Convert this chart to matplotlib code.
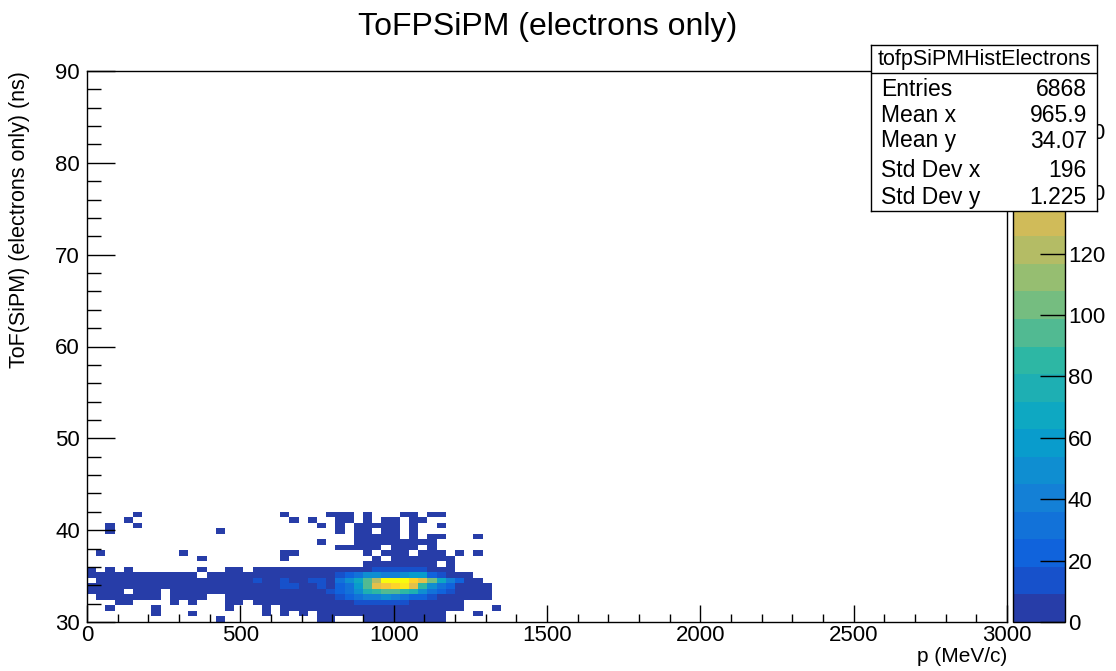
import matplotlib.pyplot as plt
import numpy as np
from matplotlib.colors import LinearSegmentedColormap, ListedColormap, BoundaryNorm
from matplotlib.ticker import MultipleLocator

plt.rcParams['font.family'] = ['Liberation Sans', 'DejaVu Sans']

# ROOT kBird palette
bird_stops = [0.0, 0.125, 0.25, 0.375, 0.5, 0.625, 0.75, 0.875, 1.0]
bird_red = [0.2082, 0.0592, 0.0780, 0.0232, 0.1802, 0.5301, 0.8186, 0.9956, 0.9764]
bird_green = [0.1664, 0.3599, 0.5041, 0.6419, 0.7178, 0.7492, 0.7328, 0.7862, 0.9832]
bird_blue = [0.5293, 0.8684, 0.8385, 0.7914, 0.6425, 0.4662, 0.3499, 0.1968, 0.0539]

# 100 x 100 bins
p_edges = np.linspace(0, 3000, 101)
tof_edges = np.linspace(30, 90, 101)

# bin contents, one dict per ToF bin: {p bin: entries}
tof_row_00 = {14: 1, 25: 2, 26: 1, 30: 2, 31: 3, 32: 3, 33: 2, 34: 3, 35: 2, 36: 2, 37: 1, 38: 1}
tof_row_01 = {7: 1, 11: 1, 19: 1, 21: 1, 23: 1, 25: 2, 26: 2, 27: 3, 28: 3, 29: 4, 30: 5, 31: 6,
              32: 6, 33: 5, 34: 5, 35: 4, 36: 3, 37: 2, 38: 2, 42: 1}
tof_row_02 = {2: 1, 7: 1, 15: 1, 19: 1, 21: 1, 22: 1, 23: 2, 24: 2, 25: 3, 26: 4, 27: 5, 28: 6,
              29: 7, 30: 8, 31: 8, 32: 8, 33: 7, 34: 7, 35: 6, 36: 5, 37: 4, 38: 3, 39: 2, 40: 1, 44: 1}
tof_row_03 = {3: 1, 4: 1, 9: 1, 11: 1, 15: 1, 16: 1, 18: 1, 19: 1, 20: 2, 21: 2, 22: 2, 23: 2,
              24: 3, 25: 4, 26: 5, 27: 6, 28: 8, 29: 12, 30: 15, 31: 16, 32: 17, 33: 15, 34: 13,
              35: 7, 36: 6, 37: 5, 38: 4, 39: 3, 40: 2}
tof_row_04 = {1: 1, 2: 1, 3: 2, 4: 1, 5: 1, 6: 2, 7: 1, 9: 1, 10: 2, 11: 1, 12: 1, 15: 2, 16: 2,
              17: 2, 18: 3, 19: 2, 20: 3, 21: 3, 22: 3, 23: 3, 24: 4, 25: 5, 26: 6, 27: 9, 28: 18,
              29: 28, 30: 38, 31: 42, 32: 45, 33: 40, 34: 35, 35: 25, 36: 20, 37: 10, 38: 7, 39: 6,
              40: 4, 41: 3, 42: 2, 43: 1}
tof_row_05 = {0: 2, 1: 2, 2: 3, 3: 2, 5: 3, 6: 2, 7: 3, 9: 3, 10: 3, 11: 3, 12: 3, 13: 3, 14: 3,
              15: 3, 16: 4, 17: 4, 18: 5, 19: 5, 20: 5, 21: 6, 22: 6, 23: 5, 24: 7, 25: 8, 26: 15,
              27: 20, 28: 30, 29: 50, 30: 75, 31: 88, 32: 95, 33: 92, 34: 85, 35: 80, 36: 50,
              37: 30, 38: 20, 39: 12, 40: 6, 41: 4, 42: 3, 43: 2}
tof_row_06 = {0: 3, 1: 3, 2: 4, 3: 3, 4: 4, 5: 3, 6: 4, 7: 4, 8: 4, 9: 4, 10: 5, 11: 4, 12: 5,
              13: 5, 14: 5, 15: 5, 16: 6, 17: 6, 18: 7, 19: 7, 20: 7, 21: 12, 22: 11, 23: 7, 24: 8,
              25: 15, 26: 8, 27: 22, 28: 32, 29: 58, 30: 90, 31: 140, 32: 150, 33: 156, 34: 163,
              35: 140, 36: 82, 37: 45, 38: 30, 39: 20, 40: 8, 41: 6, 42: 4, 43: 2}
tof_row_07 = {1: 3, 2: 3, 3: 4, 4: 3, 5: 4, 6: 4, 7: 4, 8: 4, 9: 4, 10: 4, 11: 5, 12: 5, 13: 5,
              14: 6, 15: 5, 16: 6, 17: 6, 18: 12, 19: 7, 20: 7, 21: 13, 22: 8, 23: 7, 24: 14,
              25: 15, 26: 8, 27: 28, 28: 50, 29: 68, 30: 98, 31: 125, 32: 171, 33: 171, 34: 171,
              35: 158, 36: 140, 37: 100, 38: 70, 39: 38, 40: 24, 41: 6, 42: 3}
tof_row_08 = {0: 2, 1: 3, 2: 3, 3: 3, 4: 3, 5: 3, 6: 3, 7: 3, 8: 3, 9: 3, 10: 4, 11: 3, 13: 4,
              14: 4, 15: 4, 16: 4, 17: 5, 18: 5, 19: 5, 20: 5, 21: 5, 22: 6, 23: 6, 24: 6, 25: 6,
              26: 7, 27: 10, 28: 18, 29: 28, 30: 48, 31: 52, 32: 42, 33: 44, 34: 46, 35: 60, 36: 55,
              37: 25, 38: 12, 39: 5, 40: 3, 41: 2}
tof_row_09 = {0: 1, 2: 1, 4: 1, 12: 1, 15: 1, 16: 1, 18: 1, 19: 2, 20: 2, 21: 2, 22: 2, 23: 2,
              24: 3, 25: 3, 26: 3, 27: 3, 28: 4, 29: 5, 30: 8, 31: 12, 32: 15, 33: 14, 34: 10,
              35: 16, 36: 14, 37: 6, 38: 2, 39: 2}
tof_row_10 = {30: 2, 31: 3, 32: 3, 33: 3, 34: 3, 35: 2, 36: 2, 37: 2, 39: 1}
tof_row_11 = {12: 1, 21: 1, 31: 2, 33: 2, 34: 3, 35: 2, 36: 2, 37: 2, 38: 1, 39: 1}
tof_row_12 = {1: 1, 10: 1, 21: 1, 22: 1, 30: 2, 32: 2, 33: 2, 34: 2, 36: 1, 37: 2, 38: 1, 40: 1, 42: 1}
tof_row_13 = {27: 1, 28: 1, 29: 2, 30: 2, 31: 2, 33: 1, 34: 2, 35: 1, 37: 1}
tof_row_14 = {25: 1, 29: 1, 30: 2, 31: 2, 32: 1, 33: 2, 34: 1, 35: 2, 36: 1, 37: 1}
tof_row_15 = {29: 1, 30: 1, 31: 2, 32: 1, 33: 1, 35: 1, 37: 1, 38: 1, 42: 1}
tof_row_16 = {2: 1, 14: 1, 27: 1, 29: 1, 30: 1, 32: 1, 33: 1, 35: 1}
tof_row_17 = {2: 1, 5: 1, 25: 1, 27: 1, 29: 1, 30: 1, 31: 1, 32: 1, 33: 1, 35: 1, 38: 1}
tof_row_18 = {4: 1, 22: 1, 24: 1, 27: 1, 28: 1, 30: 1, 32: 1, 33: 1, 35: 1, 36: 1}
tof_row_19 = {5: 1, 21: 1, 26: 1, 27: 1, 28: 1, 30: 1, 34: 1, 35: 1, 37: 1, 38: 1}

tof_rows = [tof_row_00, tof_row_01, tof_row_02, tof_row_03, tof_row_04, tof_row_05, tof_row_06,
            tof_row_07, tof_row_08, tof_row_09, tof_row_10, tof_row_11, tof_row_12, tof_row_13,
            tof_row_14, tof_row_15, tof_row_16, tof_row_17, tof_row_18, tof_row_19]

stats_labels = ["Entries", "Mean x", "Mean y", "Std Dev x", "Std Dev y"]
stats_values = ["6868", "965.9", "34.07", "196", "1.225"]

counts = np.zeros((100, 100))
for iy, row in enumerate(tof_rows):
    for ix, n in row.items():
        counts[iy, ix] = n

# ROOT colz: 20 contour levels up to 1.05 * max
n_cont = 20
zmax = 1.05 * counts.max()
bird = LinearSegmentedColormap.from_list(
    'bird', list(zip(bird_stops, zip(bird_red, bird_green, bird_blue))))
cmap = ListedColormap([bird((i + 0.99) / n_cont) for i in range(n_cont)])
norm = BoundaryNorm(np.linspace(0, zmax, n_cont + 1), n_cont)

W, H = 1116, 671
fig = plt.figure(figsize=(W / 100, H / 100), dpi=100)
ax = fig.add_axes([87 / W, 49 / H, 920 / W, 551 / H])
mesh = ax.pcolormesh(p_edges, tof_edges, np.ma.masked_equal(counts, 0), cmap=cmap, norm=norm)
ax.set_xlim(0, 3000)
ax.set_ylim(30, 90)
ax.xaxis.set_major_locator(MultipleLocator(500))
ax.xaxis.set_minor_locator(MultipleLocator(100))
ax.yaxis.set_major_locator(MultipleLocator(10))
ax.yaxis.set_minor_locator(MultipleLocator(2))
ax.tick_params(axis='x', which='major', direction='in', length=12, width=1, labelsize=16, pad=2)
ax.tick_params(axis='x', which='minor', direction='in', length=6, width=1)
ax.tick_params(axis='y', which='major', direction='in', length=20, width=1, labelsize=16, pad=5)
ax.tick_params(axis='y', which='minor', direction='in', length=10, width=1)
for s in ax.spines.values():
    s.set_linewidth(1.0)

cax = fig.add_axes([1013 / W, 49 / H, 52 / W, 551 / H])
cbar = fig.colorbar(mesh, cax=cax, spacing='proportional')
cbar.set_ticks(np.arange(0, 180, 20))
cbar.outline.set_linewidth(1.0)
cax.minorticks_off()
cax.tick_params(direction='in', length=18, width=1, labelsize=16, pad=2)

fig.text(548 / W, 1 - 27 / H, "ToFPSiPM (electrons only)", ha='center', va='center', fontsize=23)
fig.text(1007 / W, 1 - 657 / H, "p (MeV/c)", ha='right', va='center', fontsize=15)
fig.text(20 / W, 1 - 71 / H, "ToF(SiPM) (electrons only) (ns)", ha='center', va='top',
         rotation=90, fontsize=15.5)

# stats box
sax = fig.add_axes([871 / W, 1 - 211 / H, 226 / W, 166 / H], zorder=10)
sax.set_xlim(0, 1)
sax.set_ylim(0, 1)
sax.set_xticks([])
sax.set_yticks([])
sax.set_facecolor('white')
for s in sax.spines.values():
    s.set_linewidth(1.0)
head = 1 - 28 / 166
sax.axhline(head, color='black', linewidth=1.0)
sax.text(0.5, 1 - 14 / 166, "tofpSiPMHistElectrons", ha='center', va='center', fontsize=15.5)
row_px = [44, 70, 96, 125, 152]
for k, (lab, val) in enumerate(zip(stats_labels, stats_values)):
    yy = 1 - row_px[k] / 166
    sax.text(0.045, yy, lab, ha='left', va='center', fontsize=16.5)
    sax.text(0.955, yy, val, ha='right', va='center', fontsize=16.5)

fig.savefig("out.png", dpi=100)
